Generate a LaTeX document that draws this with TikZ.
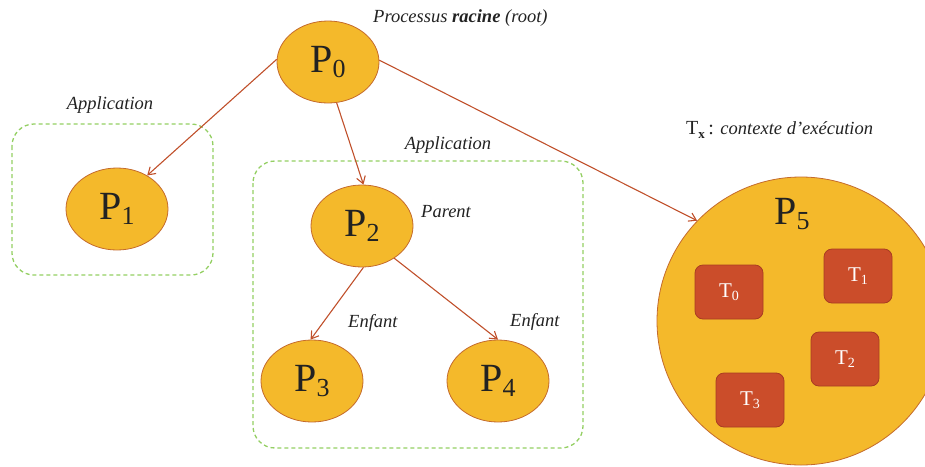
\documentclass[tikz,border=0pt]{standalone}
\usepackage{fontspec}
\setmainfont{Liberation Serif}
\usetikzlibrary{shapes.geometric,arrows.meta}
\definecolor{procfill}{HTML}{F4B92B}
\definecolor{procline}{HTML}{C46A2C}
\definecolor{arrowcol}{HTML}{C0502B}
\definecolor{appline}{HTML}{94CF63}
\definecolor{thfill}{HTML}{CB4D2A}
\definecolor{thline}{HTML}{A83C22}
\definecolor{txt}{HTML}{222222}
\tikzset{
  proc/.style={ellipse, draw=procline, fill=procfill, line width=0.8pt,
    minimum width=102pt, minimum height=82pt, inner sep=0pt,
    font=\fontsize{40}{40}\selectfont, text=txt},
  thread/.style={rectangle, rounded corners=8pt, draw=thline, fill=thfill,
    line width=0.8pt, minimum width=68pt, minimum height=54pt, inner sep=0pt,
    font=\fontsize{21}{21}\selectfont, text=white},
  appbox/.style={draw=appline, dash pattern=on 4pt off 3pt, line width=1.3pt, rounded corners=22pt},
  link/.style={draw=arrowcol, line width=1.1pt, -{Straight Barb[length=7pt,width=9pt]}},
  lbl/.style={font=\fontsize{18.5}{18.5}\selectfont\itshape, text=txt, inner sep=0pt}
}
\newcommand{\sub}[1]{\raisebox{-0.3ex}{\fontsize{26}{26}\selectfont #1}}
\newcommand{\tsub}[1]{\raisebox{-0.3ex}{\fontsize{14}{14}\selectfont #1}}
\begin{document}
\begin{tikzpicture}[x=1pt,y=-1pt]
  \useasboundingbox (0,0) rectangle (925,466);
  \clip (0,0) rectangle (925,466);

  % application boundaries
  \draw[appbox] (12,124) rectangle (213,275);
  \draw[appbox] (253,161) rectangle (583,448);
  \node[lbl] (app1) at (110,105) {Application};
  \node[lbl] (app2) at (448,145) {Application};

  % processes
  \node[proc] (p0) at (328,62) {P\sub{0}};
  \node[proc] (p1) at (117,209) {P\sub{1}};
  \node[proc] (p2) at (362,226) {P\sub{2}};
  \node[proc] (p3) at (312,381) {P\sub{3}};
  \node[proc] (p4) at (498,381) {P\sub{4}};
  \node[circle, draw=procline, fill=procfill, line width=0.8pt,
        minimum size=288pt, inner sep=0pt] (p5) at (801,321) {};
  \node[font=\fontsize{40}{40}\selectfont, text=txt] (p5name) at (792,214) {P\sub{5}};

  % threads of P5
  \node[thread] (t0) at (729,292) {T\tsub{0}};
  \node[thread] (t1) at (858,276) {T\tsub{1}};
  \node[thread] (t2) at (845,359) {T\tsub{2}};
  \node[thread] (t3) at (750,400) {T\tsub{3}};

  % labels
  \node[lbl, anchor=west] (root) at (373,18) {Processus \textbf{racine} (root)};
  \node[lbl, anchor=west] (parent) at (421,212) {Parent};
  \node[lbl, anchor=west] (enf3) at (348,323) {Enfant};
  \node[lbl, anchor=west] (enf4) at (510,322) {Enfant};
  \node[anchor=west, text=txt, inner sep=0pt] (tx) at (686,130)
    {\fontsize{20}{20}\selectfont T\raisebox{-0.4ex}{\fontsize{13}{13}\selectfont\bfseries x}\,: {\fontsize{18.5}{18.5}\selectfont\itshape contexte d'exécution}};

  % process tree
  \draw[link] (p0.177) -- (p1.48);
  \draw[link] (p0.-78) -- (p2.88);
  \draw[link] (p0.2) -- (p5.136);
  \draw[link] (p2.-88) -- (p3.92);
  \draw[link] (p2.-45) -- (p4.90);
\end{tikzpicture}
\end{document}
